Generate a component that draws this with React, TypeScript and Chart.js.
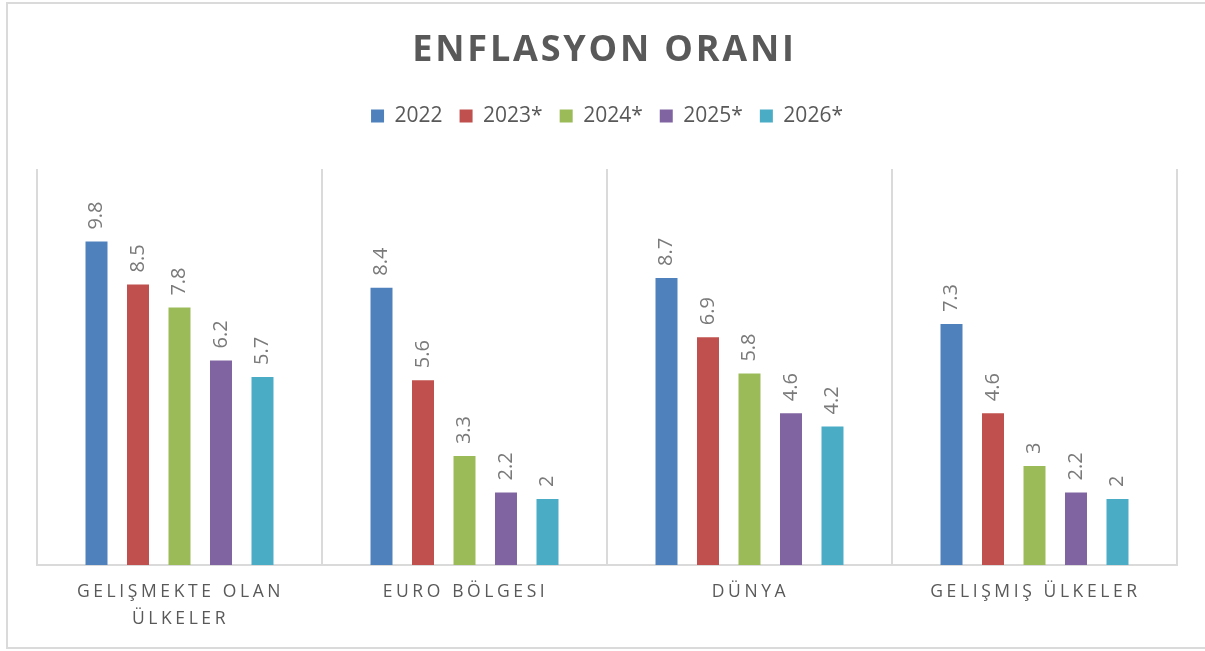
import { useEffect, useRef } from 'react';
import { Chart, registerables } from 'chart.js';

Chart.register(...registerables);

// ---- data ----
const chartTitle = 'ENFLASYON ORANI';
const categories: string[][] = [
  ['GELIŞMEKTE OLAN', 'ÜLKELER'],
  ['EURO BÖLGESI'],
  ['DÜNYA'],
  ['GELIŞMIŞ ÜLKELER'],
];
const seriesNames = ['2022', '2023*', '2024*', '2025*', '2026*'];
const s2022 = [9.8, 8.4, 8.7, 7.3];
const s2023 = [8.5, 5.6, 6.9, 4.6];
const s2024 = [7.8, 3.3, 5.8, 3];
const s2025 = [6.2, 2.2, 4.6, 2.2];
const s2026 = [5.7, 2, 4.2, 2];
const seriesValues = [s2022, s2023, s2024, s2025, s2026];
const yMin = 0;
const yMax = 12;

// ---- styles ----
const palette = ['#4f81bd', '#c0504d', '#9bbb59', '#8064a2', '#4bacc6'];
const FONT = "'Open Sans', 'DejaVu Sans', sans-serif";
const textDark = '#595959';
const valueGray = '#7a7a7a';
const lineGray = '#dadada';

const framePlugin = {
  id: 'frame',
  beforeDraw(chart: any) {
    const { ctx, width, height } = chart;
    ctx.save();
    ctx.fillStyle = '#ffffff';
    ctx.fillRect(0, 0, width, height);
    ctx.strokeStyle = lineGray;
    ctx.lineWidth = 2;
    ctx.strokeRect(7, 3, width + 10, height - 6);
    ctx.restore();
  },
};

const titlePlugin = {
  id: 'spacedTitle',
  afterDraw(chart: any) {
    const { ctx, width } = chart;
    ctx.save();
    ctx.font = `bold 36px ${FONT}`;
    (ctx as any).letterSpacing = '2.8px';
    ctx.fillStyle = textDark;
    ctx.textAlign = 'center';
    ctx.textBaseline = 'middle';
    ctx.fillText(chartTitle, width / 2 + 2, 51);
    ctx.restore();
  },
};

const valueLabelPlugin = {
  id: 'valueLabels',
  afterDatasetsDraw(chart: any) {
    const { ctx } = chart;
    ctx.save();
    ctx.font = `20px ${FONT}`;
    ctx.fillStyle = valueGray;
    ctx.textAlign = 'left';
    ctx.textBaseline = 'middle';
    chart.data.datasets.forEach((ds: any, di: number) => {
      const meta = chart.getDatasetMeta(di);
      meta.data.forEach((el: any, i: number) => {
        ctx.save();
        ctx.translate(el.x, el.y - 12);
        ctx.rotate(-Math.PI / 2);
        ctx.fillText(String(ds.data[i]), 0, 0);
        ctx.restore();
      });
    });
    ctx.restore();
  },
};

const xLabelPlugin = {
  id: 'xLabels',
  afterDraw(chart: any) {
    const { ctx } = chart;
    const scale = chart.scales.x;
    ctx.save();
    ctx.font = `17.5px ${FONT}`;
    (ctx as any).letterSpacing = '3.6px';
    ctx.fillStyle = textDark;
    ctx.textAlign = 'center';
    ctx.textBaseline = 'middle';
    categories.forEach((lines, i) => {
      const x = scale.getPixelForValue(i) + 1;
      lines.forEach((line, li) => {
        ctx.fillText(line, x, 592 + li * 27);
      });
    });
    ctx.restore();
  },
};

export default function App() {
  const ref = useRef<HTMLCanvasElement>(null);
  useEffect(() => {
    document.body.style.margin = '0';
    const canvas = ref.current!;
    const chart = new Chart(canvas, {
      type: 'bar',
      data: {
        labels: categories.map((c) => c.join(' ')),
        datasets: seriesNames.map((name, i) => ({
          label: name,
          data: seriesValues[i],
          backgroundColor: palette[i],
          borderWidth: 0,
          categoryPercentage: 0.728,
          barPercentage: 0.53,
        })),
      },
      options: {
        responsive: false,
        animation: false,
        devicePixelRatio: 1,
        font: { family: FONT },
        layout: { padding: { top: 88.5, left: 37, right: 28, bottom: 0 } },
        plugins: {
          title: { display: false },
          tooltip: { enabled: false },
          legend: {
            display: true,
            position: 'top',
            labels: {
              font: { family: FONT, size: 21 },
              color: textDark,
              boxWidth: 13,
              boxHeight: 13,
              padding: 17,
            },
          },
        },
        scales: {
          x: {
            type: 'category',
            position: 'bottom',
            grid: { display: true, offset: true, color: lineGray, lineWidth: 2, drawTicks: false },
            border: { display: true, color: lineGray, width: 2 },
            ticks: { display: false },
            afterFit: (s: any) => { s.height = 86; },
          },
          xTop: {
            type: 'category',
            position: 'top',
            grid: { display: false, drawTicks: false },
            border: { display: false },
            ticks: { display: false },
            afterFit: (s: any) => { s.height = 32.5; },
          },
          y: {
            display: false,
            min: yMin,
            max: yMax,
          },
        },
      } as any,
      plugins: [framePlugin, titlePlugin, valueLabelPlugin, xLabelPlugin],
    });
    return () => chart.destroy();
  }, []);
  return <canvas ref={ref} width={1205} height={651} style={{ display: 'block' }} />;
}
